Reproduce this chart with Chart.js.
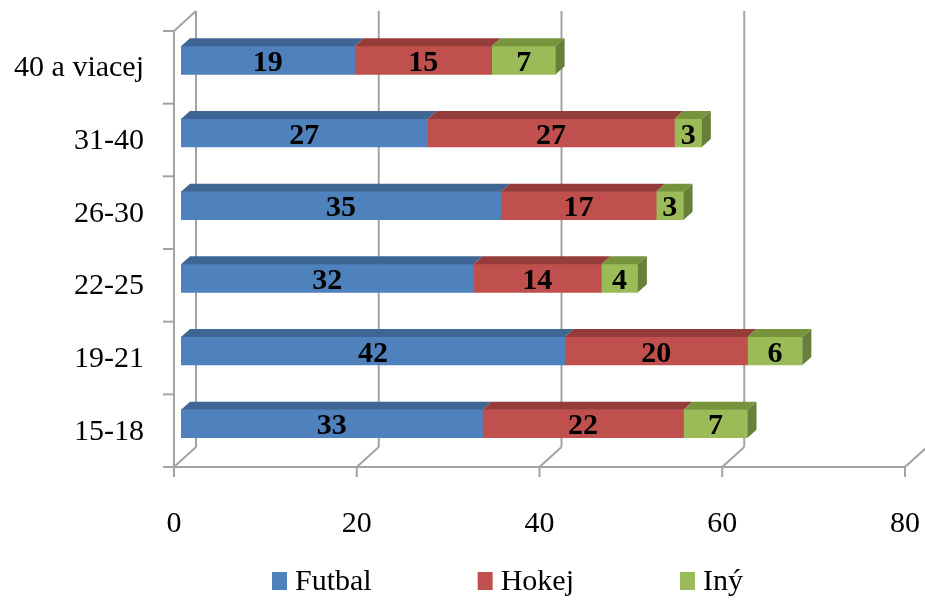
<!DOCTYPE html>
<html><head><meta charset="utf-8">
<script src="https://cdn.jsdelivr.net/npm/chart.js@4"></script>
<style>html,body{margin:0;padding:0;background:#fff}#wrap{width:925px;height:601px}</style>
</head><body><div id="wrap"><canvas id="c" width="925" height="601"></canvas></div>
<script>
const categories = ["40 a viacej", "31-40", "26-30", "22-25", "19-21", "15-18"];
const seriesNames = ["Futbal", "Hokej", "Iný"];
const futbal = [19, 27, 35, 32, 42, 33];
const hokej = [15, 27, 17, 14, 20, 22];
const iny = [7, 3, 3, 4, 6, 7];
const xTicks = [0, 20, 40, 60, 80];

const frontColors = ['#4f81bd', '#c0504d', '#9bbb59'];
const topColors = ['#3e6594', '#953d3b', '#77933c'];
const sideColors = ['#36587f', '#7f3331', '#66803a'];
const FONT = '"Liberation Serif", "Times New Roman", serif';

const FX = -7, FY = 7, BX = 15, BY = -13; // frame offsets relative to bar plane
const DX = 9, DY = 8; // bar depth

function line(ctx, x1, y1, x2, y2) { ctx.beginPath(); ctx.moveTo(x1, y1); ctx.lineTo(x2, y2); ctx.stroke(); }

const framePlugin = {
  id: 'frame3d',
  beforeDatasetsDraw(chart) {
    const ctx = chart.ctx, xs = chart.scales.x, ys = chart.scales.y;
    const top = chart.chartArea.top, bottom = chart.chartArea.bottom;
    const floorF = bottom + FY, floorB = bottom + BY, topB = top + BY;
    const leftF = xs.getPixelForValue(xTicks[0]) + FX;
    ctx.save();
    ctx.strokeStyle = '#a3a3a3';
    ctx.lineWidth = 2;
    xTicks.forEach(v => {
      const p = xs.getPixelForValue(v);
      line(ctx, p + BX, topB, p + BX, floorB);
      line(ctx, p + FX, floorF, p + BX, floorB);
      line(ctx, p + FX, floorF, p + FX, floorF + 10);
    });
    line(ctx, leftF, floorF, xs.getPixelForValue(xTicks[xTicks.length - 1]) + FX, floorF);
    line(ctx, leftF, top + FY, leftF, floorF);
    line(ctx, leftF, top + FY, leftF + (BX - FX), topB);
    for (let i = 0; i <= categories.length; i++) {
      const y = ys.getPixelForValue(i - 0.5) + FY;
      line(ctx, leftF - 11, y, leftF, y);
    }
    ctx.restore();
  },
  afterDatasetsDraw(chart) {
    const ctx = chart.ctx;
    const n = chart.data.datasets.length;
    ctx.save();
    chart.data.datasets.forEach((ds, di) => {
      const meta = chart.getDatasetMeta(di);
      meta.data.forEach((bar) => {
        const {x, y, base, height} = bar.getProps(['x', 'y', 'base', 'height'], true);
        const t = y - height / 2;
        ctx.fillStyle = topColors[di];
        ctx.beginPath();
        ctx.moveTo(base, t); ctx.lineTo(x, t); ctx.lineTo(x + DX, t - DY); ctx.lineTo(base + DX, t - DY);
        ctx.closePath(); ctx.fill();
        if (di === n - 1) {
          ctx.fillStyle = sideColors[di];
          ctx.beginPath();
          ctx.moveTo(x, t); ctx.lineTo(x + DX, t - DY); ctx.lineTo(x + DX, t + height - DY); ctx.lineTo(x, t + height);
          ctx.closePath(); ctx.fill();
        }
      });
    });
    // value labels
    ctx.fillStyle = '#000';
    ctx.font = 'bold 30px ' + FONT;
    ctx.textAlign = 'center';
    ctx.textBaseline = 'middle';
    chart.data.datasets.forEach((ds, di) => {
      const meta = chart.getDatasetMeta(di);
      meta.data.forEach((bar, i) => {
        const {x, y, base} = bar.getProps(['x', 'y', 'base'], true);
        ctx.fillText(String(ds.data[i]), (x + base) / 2, y + 3);
      });
    });
    ctx.restore();
  },
  afterDraw(chart) {
    const ctx = chart.ctx;
    ctx.save();
    ctx.font = '30px ' + FONT;
    ctx.textBaseline = 'alphabetic';
    ctx.textAlign = 'left';
    let x = 272;
    const boxTop = 572, baseY = 590;
    chart.data.datasets.forEach((ds, di) => {
      ctx.fillStyle = frontColors[di];
      ctx.fillRect(x, boxTop, 15, 18);
      ctx.fillStyle = '#000';
      ctx.fillText(ds.label, x + 23, baseY);
      x += 23 + ctx.measureText(ds.label).width + 106;
    });
    ctx.restore();
  }
};

const seriesValues = [futbal, hokej, iny];
new Chart(document.getElementById('c'), {
  type: 'bar',
  data: {
    labels: categories,
    datasets: seriesNames.map((name, i) => ({
      label: name,
      data: seriesValues[i],
      backgroundColor: frontColors[i],
      borderWidth: 0,
      barThickness: 28
    }))
  },
  options: {
    indexAxis: 'y',
    responsive: false,
    animation: false,
    devicePixelRatio: 1,
    layout: {autoPadding: false, padding: {top: 24, right: 13, left: 0, bottom: 0}},
    plugins: {legend: {display: false}, tooltip: {enabled: false}},
    scales: {
      x: {
        stacked: true, min: 0, max: 80,
        grid: {display: false, drawTicks: false},
        border: {display: false},
        ticks: {stepSize: 20, color: '#000', font: {family: FONT, size: 30}, padding: 46, labelOffset: FX},
        afterFit(s) { s.height = 141; s.paddingLeft = 0; s.paddingRight = 0; }
      },
      y: {
        stacked: true,
        grid: {display: false, drawTicks: false},
        border: {display: false},
        ticks: {color: '#000', font: {family: FONT, size: 30}, padding: 37, labelOffset: FY + 1},
        afterFit(s) { s.width = 181; s.paddingTop = 0; s.paddingBottom = 0; }
      }
    }
  },
  plugins: [framePlugin]
});
</script></body></html>
